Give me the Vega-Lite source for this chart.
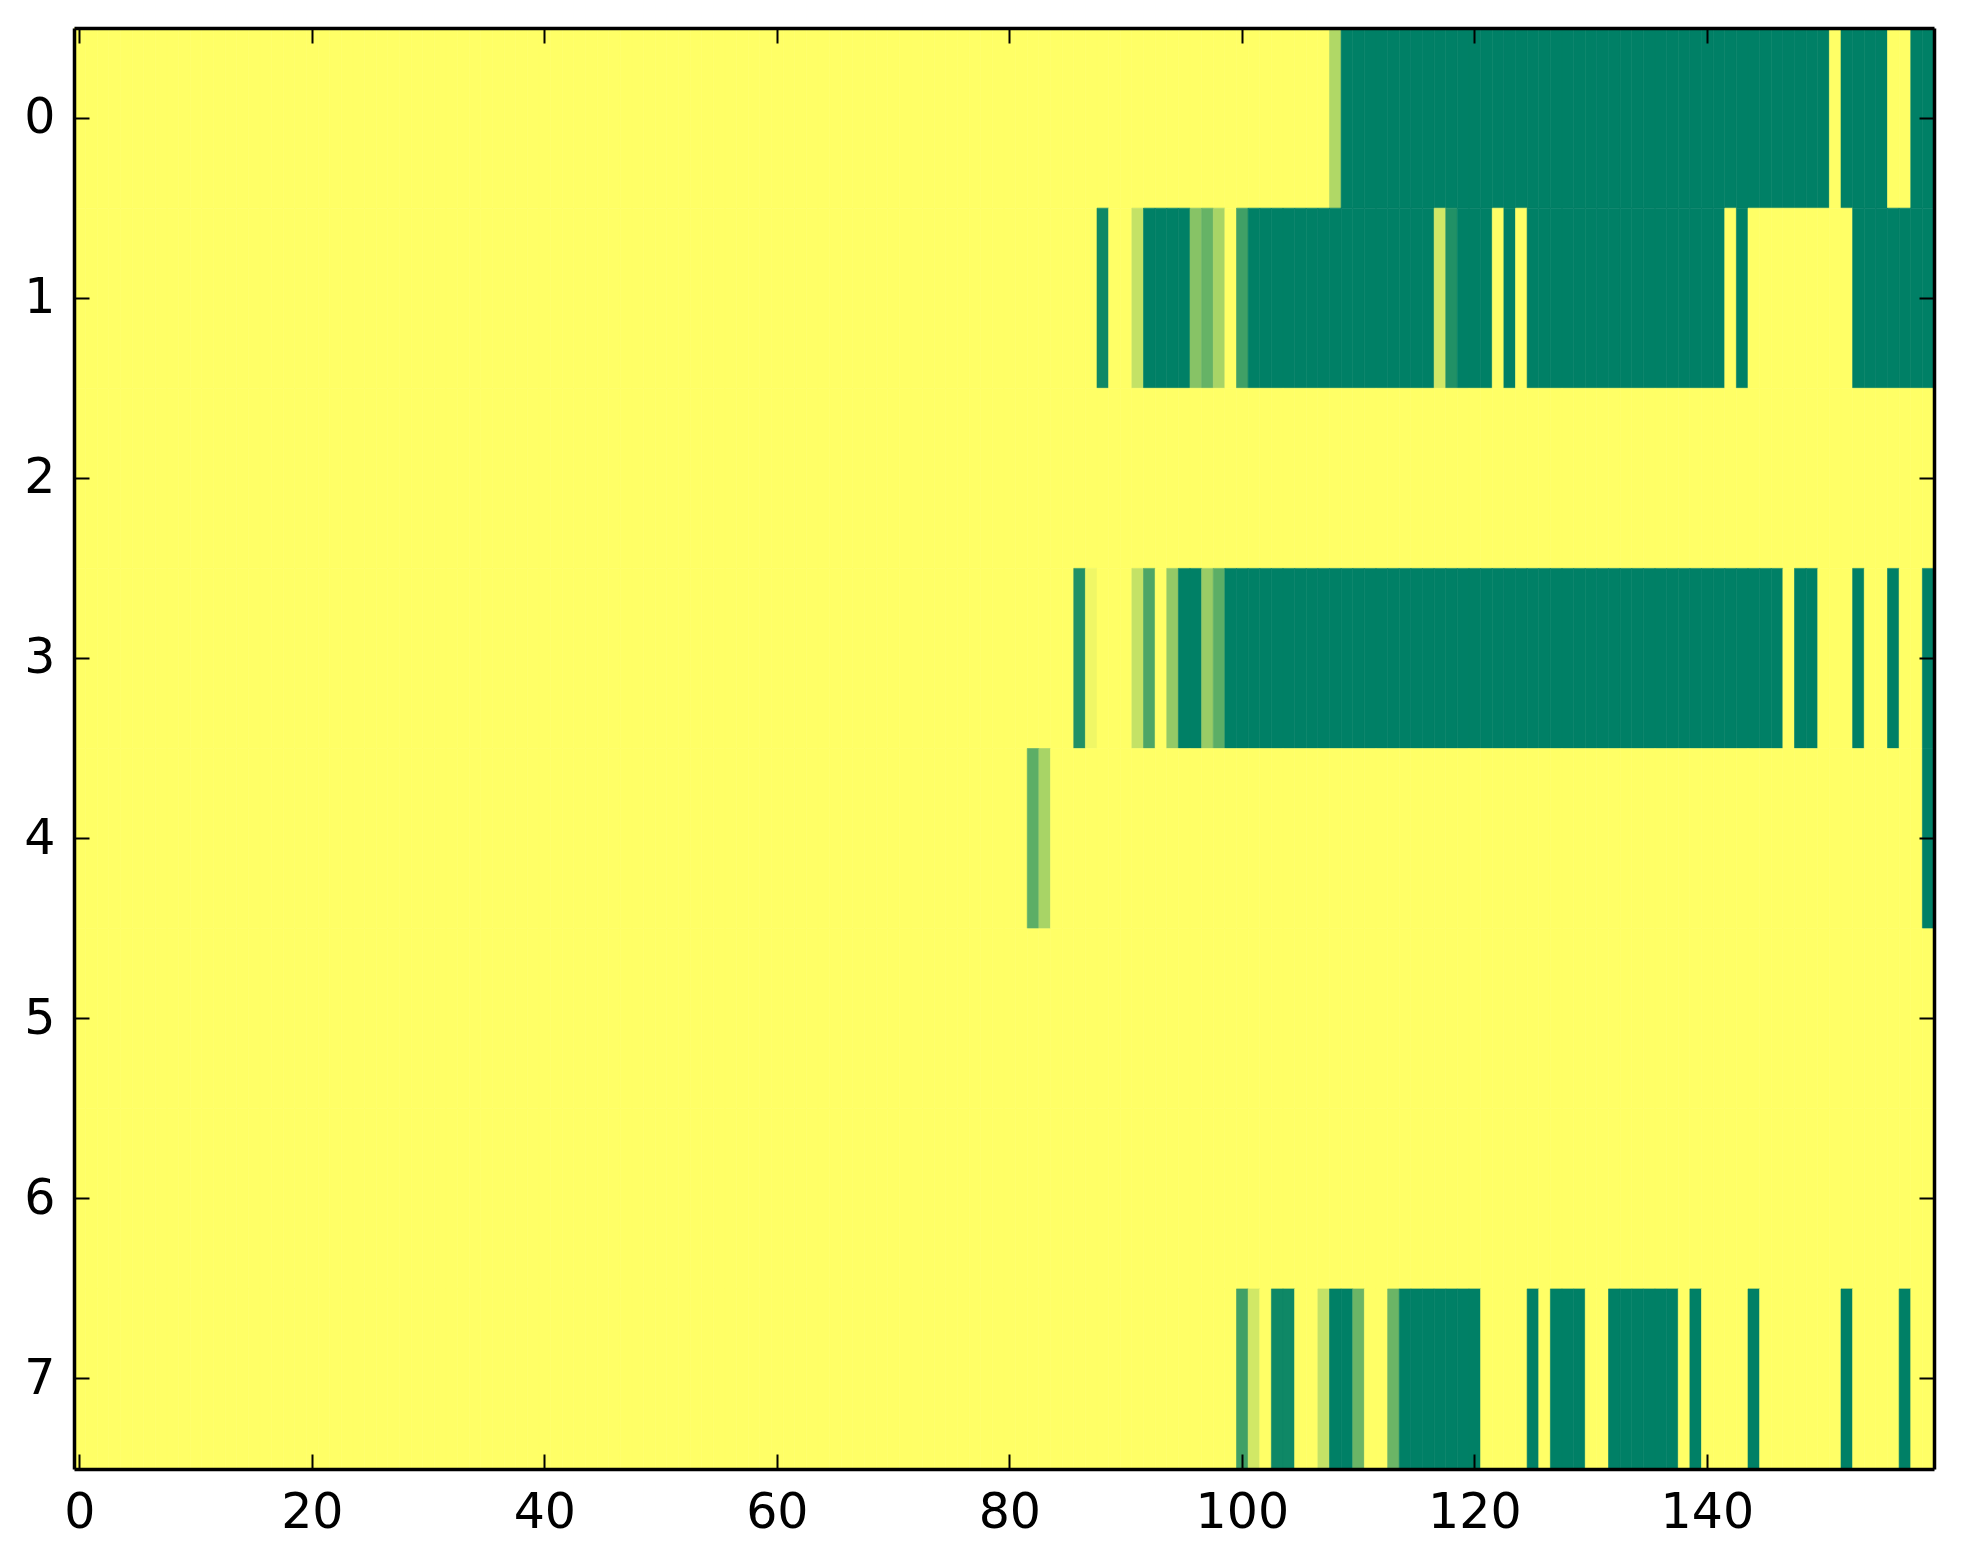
{
  "$schema": "https://vega.github.io/schema/vega-lite/v6.json",
  "width": 1860,
  "height": 1441,
  "autosize": {"type": "pad"},
  "padding": {"left": 23, "top": 27, "right": 30, "bottom": 5},
  "background": "white",
  "config": {
    "view": {"stroke": null},
    "axis": {
      "domain": true,
      "domainColor": "black",
      "domainWidth": 3.5,
      "grid": false,
      "title": null,
      "tickColor": "black",
      "tickWidth": 2,
      "tickSize": -15,
      "labelFont": "DejaVu Sans",
      "labelFontSize": 49,
      "labelColor": "black",
      "labelPadding": 34
    }
  },
  "data": {
    "values": [
      {"c":0,"r":0,"v":0},{"c":1,"r":0,"v":0},{"c":2,"r":0,"v":0},{"c":3,"r":0,"v":0},{"c":4,"r":0,"v":0},{"c":5,"r":0,"v":0},{"c":6,"r":0,"v":0},{"c":7,"r":0,"v":0},{"c":8,"r":0,"v":0},{"c":9,"r":0,"v":0},
      {"c":10,"r":0,"v":0},{"c":11,"r":0,"v":0},{"c":12,"r":0,"v":0},{"c":13,"r":0,"v":0},{"c":14,"r":0,"v":0},{"c":15,"r":0,"v":0},{"c":16,"r":0,"v":0},{"c":17,"r":0,"v":0},{"c":18,"r":0,"v":0},{"c":19,"r":0,"v":0},
      {"c":20,"r":0,"v":0},{"c":21,"r":0,"v":0},{"c":22,"r":0,"v":0},{"c":23,"r":0,"v":0},{"c":24,"r":0,"v":0},{"c":25,"r":0,"v":0},{"c":26,"r":0,"v":0},{"c":27,"r":0,"v":0},{"c":28,"r":0,"v":0},{"c":29,"r":0,"v":0},
      {"c":30,"r":0,"v":0},{"c":31,"r":0,"v":0},{"c":32,"r":0,"v":0},{"c":33,"r":0,"v":0},{"c":34,"r":0,"v":0},{"c":35,"r":0,"v":0},{"c":36,"r":0,"v":0},{"c":37,"r":0,"v":0},{"c":38,"r":0,"v":0},{"c":39,"r":0,"v":0},
      {"c":40,"r":0,"v":0},{"c":41,"r":0,"v":0},{"c":42,"r":0,"v":0},{"c":43,"r":0,"v":0},{"c":44,"r":0,"v":0},{"c":45,"r":0,"v":0},{"c":46,"r":0,"v":0},{"c":47,"r":0,"v":0},{"c":48,"r":0,"v":0},{"c":49,"r":0,"v":0},
      {"c":50,"r":0,"v":0},{"c":51,"r":0,"v":0},{"c":52,"r":0,"v":0},{"c":53,"r":0,"v":0},{"c":54,"r":0,"v":0},{"c":55,"r":0,"v":0},{"c":56,"r":0,"v":0},{"c":57,"r":0,"v":0},{"c":58,"r":0,"v":0},{"c":59,"r":0,"v":0},
      {"c":60,"r":0,"v":0},{"c":61,"r":0,"v":0},{"c":62,"r":0,"v":0},{"c":63,"r":0,"v":0},{"c":64,"r":0,"v":0},{"c":65,"r":0,"v":0},{"c":66,"r":0,"v":0},{"c":67,"r":0,"v":0},{"c":68,"r":0,"v":0},{"c":69,"r":0,"v":0},
      {"c":70,"r":0,"v":0},{"c":71,"r":0,"v":0},{"c":72,"r":0,"v":0},{"c":73,"r":0,"v":0},{"c":74,"r":0,"v":0},{"c":75,"r":0,"v":0},{"c":76,"r":0,"v":0},{"c":77,"r":0,"v":0},{"c":78,"r":0,"v":0},{"c":79,"r":0,"v":0},
      {"c":80,"r":0,"v":0},{"c":81,"r":0,"v":0},{"c":82,"r":0,"v":0},{"c":83,"r":0,"v":0},{"c":84,"r":0,"v":0},{"c":85,"r":0,"v":0},{"c":86,"r":0,"v":0},{"c":87,"r":0,"v":0},{"c":88,"r":0,"v":0},{"c":89,"r":0,"v":0},
      {"c":90,"r":0,"v":0},{"c":91,"r":0,"v":0},{"c":92,"r":0,"v":0},{"c":93,"r":0,"v":0},{"c":94,"r":0,"v":0},{"c":95,"r":0,"v":0},{"c":96,"r":0,"v":0},{"c":97,"r":0,"v":0},{"c":98,"r":0,"v":0},{"c":99,"r":0,"v":0},
      {"c":100,"r":0,"v":0},{"c":101,"r":0,"v":0},{"c":102,"r":0,"v":0},{"c":103,"r":0,"v":0},{"c":104,"r":0,"v":0},{"c":105,"r":0,"v":0},{"c":106,"r":0,"v":0},{"c":107,"r":0,"v":0},{"c":108,"r":0,"v":0.31},{"c":109,"r":0,"v":1},
      {"c":110,"r":0,"v":1},{"c":111,"r":0,"v":1},{"c":112,"r":0,"v":1},{"c":113,"r":0,"v":1},{"c":114,"r":0,"v":1},{"c":115,"r":0,"v":1},{"c":116,"r":0,"v":1},{"c":117,"r":0,"v":1},{"c":118,"r":0,"v":1},{"c":119,"r":0,"v":1},
      {"c":120,"r":0,"v":1},{"c":121,"r":0,"v":1},{"c":122,"r":0,"v":1},{"c":123,"r":0,"v":1},{"c":124,"r":0,"v":1},{"c":125,"r":0,"v":1},{"c":126,"r":0,"v":1},{"c":127,"r":0,"v":1},{"c":128,"r":0,"v":1},{"c":129,"r":0,"v":1},
      {"c":130,"r":0,"v":1},{"c":131,"r":0,"v":1},{"c":132,"r":0,"v":1},{"c":133,"r":0,"v":1},{"c":134,"r":0,"v":1},{"c":135,"r":0,"v":1},{"c":136,"r":0,"v":1},{"c":137,"r":0,"v":1},{"c":138,"r":0,"v":1},{"c":139,"r":0,"v":1},
      {"c":140,"r":0,"v":1},{"c":141,"r":0,"v":1},{"c":142,"r":0,"v":1},{"c":143,"r":0,"v":1},{"c":144,"r":0,"v":1},{"c":145,"r":0,"v":1},{"c":146,"r":0,"v":1},{"c":147,"r":0,"v":1},{"c":148,"r":0,"v":1},{"c":149,"r":0,"v":1},
      {"c":150,"r":0,"v":1},{"c":151,"r":0,"v":0},{"c":152,"r":0,"v":1},{"c":153,"r":0,"v":1},{"c":154,"r":0,"v":1},{"c":155,"r":0,"v":1},{"c":156,"r":0,"v":0},{"c":157,"r":0,"v":0},{"c":158,"r":0,"v":1},{"c":159,"r":0,"v":1},

      {"c":0,"r":1,"v":0},{"c":1,"r":1,"v":0},{"c":2,"r":1,"v":0},{"c":3,"r":1,"v":0},{"c":4,"r":1,"v":0},{"c":5,"r":1,"v":0},{"c":6,"r":1,"v":0},{"c":7,"r":1,"v":0},{"c":8,"r":1,"v":0},{"c":9,"r":1,"v":0},
      {"c":10,"r":1,"v":0},{"c":11,"r":1,"v":0},{"c":12,"r":1,"v":0},{"c":13,"r":1,"v":0},{"c":14,"r":1,"v":0},{"c":15,"r":1,"v":0},{"c":16,"r":1,"v":0},{"c":17,"r":1,"v":0},{"c":18,"r":1,"v":0},{"c":19,"r":1,"v":0},
      {"c":20,"r":1,"v":0},{"c":21,"r":1,"v":0},{"c":22,"r":1,"v":0},{"c":23,"r":1,"v":0},{"c":24,"r":1,"v":0},{"c":25,"r":1,"v":0},{"c":26,"r":1,"v":0},{"c":27,"r":1,"v":0},{"c":28,"r":1,"v":0},{"c":29,"r":1,"v":0},
      {"c":30,"r":1,"v":0},{"c":31,"r":1,"v":0},{"c":32,"r":1,"v":0},{"c":33,"r":1,"v":0},{"c":34,"r":1,"v":0},{"c":35,"r":1,"v":0},{"c":36,"r":1,"v":0},{"c":37,"r":1,"v":0},{"c":38,"r":1,"v":0},{"c":39,"r":1,"v":0},
      {"c":40,"r":1,"v":0},{"c":41,"r":1,"v":0},{"c":42,"r":1,"v":0},{"c":43,"r":1,"v":0},{"c":44,"r":1,"v":0},{"c":45,"r":1,"v":0},{"c":46,"r":1,"v":0},{"c":47,"r":1,"v":0},{"c":48,"r":1,"v":0},{"c":49,"r":1,"v":0},
      {"c":50,"r":1,"v":0},{"c":51,"r":1,"v":0},{"c":52,"r":1,"v":0},{"c":53,"r":1,"v":0},{"c":54,"r":1,"v":0},{"c":55,"r":1,"v":0},{"c":56,"r":1,"v":0},{"c":57,"r":1,"v":0},{"c":58,"r":1,"v":0},{"c":59,"r":1,"v":0},
      {"c":60,"r":1,"v":0},{"c":61,"r":1,"v":0},{"c":62,"r":1,"v":0},{"c":63,"r":1,"v":0},{"c":64,"r":1,"v":0},{"c":65,"r":1,"v":0},{"c":66,"r":1,"v":0},{"c":67,"r":1,"v":0},{"c":68,"r":1,"v":0},{"c":69,"r":1,"v":0},
      {"c":70,"r":1,"v":0},{"c":71,"r":1,"v":0},{"c":72,"r":1,"v":0},{"c":73,"r":1,"v":0},{"c":74,"r":1,"v":0},{"c":75,"r":1,"v":0},{"c":76,"r":1,"v":0},{"c":77,"r":1,"v":0},{"c":78,"r":1,"v":0},{"c":79,"r":1,"v":0},
      {"c":80,"r":1,"v":0},{"c":81,"r":1,"v":0},{"c":82,"r":1,"v":0},{"c":83,"r":1,"v":0},{"c":84,"r":1,"v":0},{"c":85,"r":1,"v":0},{"c":86,"r":1,"v":0},{"c":87,"r":1,"v":0},{"c":88,"r":1,"v":0.94},{"c":89,"r":1,"v":0},
      {"c":90,"r":1,"v":0},{"c":91,"r":1,"v":0.23},{"c":92,"r":1,"v":1},{"c":93,"r":1,"v":1},{"c":94,"r":1,"v":1},{"c":95,"r":1,"v":1},{"c":96,"r":1,"v":0.47},{"c":97,"r":1,"v":0.6},{"c":98,"r":1,"v":0.34},{"c":99,"r":1,"v":0},
      {"c":100,"r":1,"v":0.75},{"c":101,"r":1,"v":1},{"c":102,"r":1,"v":1},{"c":103,"r":1,"v":1},{"c":104,"r":1,"v":1},{"c":105,"r":1,"v":1},{"c":106,"r":1,"v":1},{"c":107,"r":1,"v":1},{"c":108,"r":1,"v":1},{"c":109,"r":1,"v":1},
      {"c":110,"r":1,"v":1},{"c":111,"r":1,"v":1},{"c":112,"r":1,"v":1},{"c":113,"r":1,"v":1},{"c":114,"r":1,"v":1},{"c":115,"r":1,"v":1},{"c":116,"r":1,"v":1},{"c":117,"r":1,"v":0.18},{"c":118,"r":1,"v":0.87},{"c":119,"r":1,"v":1},
      {"c":120,"r":1,"v":1},{"c":121,"r":1,"v":1},{"c":122,"r":1,"v":0},{"c":123,"r":1,"v":1},{"c":124,"r":1,"v":0},{"c":125,"r":1,"v":1},{"c":126,"r":1,"v":1},{"c":127,"r":1,"v":1},{"c":128,"r":1,"v":1},{"c":129,"r":1,"v":1},
      {"c":130,"r":1,"v":1},{"c":131,"r":1,"v":1},{"c":132,"r":1,"v":1},{"c":133,"r":1,"v":1},{"c":134,"r":1,"v":1},{"c":135,"r":1,"v":1},{"c":136,"r":1,"v":1},{"c":137,"r":1,"v":1},{"c":138,"r":1,"v":1},{"c":139,"r":1,"v":1},
      {"c":140,"r":1,"v":1},{"c":141,"r":1,"v":1},{"c":142,"r":1,"v":0},{"c":143,"r":1,"v":1},{"c":144,"r":1,"v":0},{"c":145,"r":1,"v":0},{"c":146,"r":1,"v":0},{"c":147,"r":1,"v":0},{"c":148,"r":1,"v":0},{"c":149,"r":1,"v":0},
      {"c":150,"r":1,"v":0},{"c":151,"r":1,"v":0},{"c":152,"r":1,"v":0},{"c":153,"r":1,"v":1},{"c":154,"r":1,"v":1},{"c":155,"r":1,"v":1},{"c":156,"r":1,"v":1},{"c":157,"r":1,"v":1},{"c":158,"r":1,"v":1},{"c":159,"r":1,"v":1},

      {"c":0,"r":2,"v":0},{"c":1,"r":2,"v":0},{"c":2,"r":2,"v":0},{"c":3,"r":2,"v":0},{"c":4,"r":2,"v":0},{"c":5,"r":2,"v":0},{"c":6,"r":2,"v":0},{"c":7,"r":2,"v":0},{"c":8,"r":2,"v":0},{"c":9,"r":2,"v":0},
      {"c":10,"r":2,"v":0},{"c":11,"r":2,"v":0},{"c":12,"r":2,"v":0},{"c":13,"r":2,"v":0},{"c":14,"r":2,"v":0},{"c":15,"r":2,"v":0},{"c":16,"r":2,"v":0},{"c":17,"r":2,"v":0},{"c":18,"r":2,"v":0},{"c":19,"r":2,"v":0},
      {"c":20,"r":2,"v":0},{"c":21,"r":2,"v":0},{"c":22,"r":2,"v":0},{"c":23,"r":2,"v":0},{"c":24,"r":2,"v":0},{"c":25,"r":2,"v":0},{"c":26,"r":2,"v":0},{"c":27,"r":2,"v":0},{"c":28,"r":2,"v":0},{"c":29,"r":2,"v":0},
      {"c":30,"r":2,"v":0},{"c":31,"r":2,"v":0},{"c":32,"r":2,"v":0},{"c":33,"r":2,"v":0},{"c":34,"r":2,"v":0},{"c":35,"r":2,"v":0},{"c":36,"r":2,"v":0},{"c":37,"r":2,"v":0},{"c":38,"r":2,"v":0},{"c":39,"r":2,"v":0},
      {"c":40,"r":2,"v":0},{"c":41,"r":2,"v":0},{"c":42,"r":2,"v":0},{"c":43,"r":2,"v":0},{"c":44,"r":2,"v":0},{"c":45,"r":2,"v":0},{"c":46,"r":2,"v":0},{"c":47,"r":2,"v":0},{"c":48,"r":2,"v":0},{"c":49,"r":2,"v":0},
      {"c":50,"r":2,"v":0},{"c":51,"r":2,"v":0},{"c":52,"r":2,"v":0},{"c":53,"r":2,"v":0},{"c":54,"r":2,"v":0},{"c":55,"r":2,"v":0},{"c":56,"r":2,"v":0},{"c":57,"r":2,"v":0},{"c":58,"r":2,"v":0},{"c":59,"r":2,"v":0},
      {"c":60,"r":2,"v":0},{"c":61,"r":2,"v":0},{"c":62,"r":2,"v":0},{"c":63,"r":2,"v":0},{"c":64,"r":2,"v":0},{"c":65,"r":2,"v":0},{"c":66,"r":2,"v":0},{"c":67,"r":2,"v":0},{"c":68,"r":2,"v":0},{"c":69,"r":2,"v":0},
      {"c":70,"r":2,"v":0},{"c":71,"r":2,"v":0},{"c":72,"r":2,"v":0},{"c":73,"r":2,"v":0},{"c":74,"r":2,"v":0},{"c":75,"r":2,"v":0},{"c":76,"r":2,"v":0},{"c":77,"r":2,"v":0},{"c":78,"r":2,"v":0},{"c":79,"r":2,"v":0},
      {"c":80,"r":2,"v":0},{"c":81,"r":2,"v":0},{"c":82,"r":2,"v":0},{"c":83,"r":2,"v":0},{"c":84,"r":2,"v":0},{"c":85,"r":2,"v":0},{"c":86,"r":2,"v":0},{"c":87,"r":2,"v":0},{"c":88,"r":2,"v":0},{"c":89,"r":2,"v":0},
      {"c":90,"r":2,"v":0},{"c":91,"r":2,"v":0},{"c":92,"r":2,"v":0},{"c":93,"r":2,"v":0},{"c":94,"r":2,"v":0},{"c":95,"r":2,"v":0},{"c":96,"r":2,"v":0},{"c":97,"r":2,"v":0},{"c":98,"r":2,"v":0},{"c":99,"r":2,"v":0},
      {"c":100,"r":2,"v":0},{"c":101,"r":2,"v":0},{"c":102,"r":2,"v":0},{"c":103,"r":2,"v":0},{"c":104,"r":2,"v":0},{"c":105,"r":2,"v":0},{"c":106,"r":2,"v":0},{"c":107,"r":2,"v":0},{"c":108,"r":2,"v":0},{"c":109,"r":2,"v":0},
      {"c":110,"r":2,"v":0},{"c":111,"r":2,"v":0},{"c":112,"r":2,"v":0},{"c":113,"r":2,"v":0},{"c":114,"r":2,"v":0},{"c":115,"r":2,"v":0},{"c":116,"r":2,"v":0},{"c":117,"r":2,"v":0},{"c":118,"r":2,"v":0},{"c":119,"r":2,"v":0},
      {"c":120,"r":2,"v":0},{"c":121,"r":2,"v":0},{"c":122,"r":2,"v":0},{"c":123,"r":2,"v":0},{"c":124,"r":2,"v":0},{"c":125,"r":2,"v":0},{"c":126,"r":2,"v":0},{"c":127,"r":2,"v":0},{"c":128,"r":2,"v":0},{"c":129,"r":2,"v":0},
      {"c":130,"r":2,"v":0},{"c":131,"r":2,"v":0},{"c":132,"r":2,"v":0},{"c":133,"r":2,"v":0},{"c":134,"r":2,"v":0},{"c":135,"r":2,"v":0},{"c":136,"r":2,"v":0},{"c":137,"r":2,"v":0},{"c":138,"r":2,"v":0},{"c":139,"r":2,"v":0},
      {"c":140,"r":2,"v":0},{"c":141,"r":2,"v":0},{"c":142,"r":2,"v":0},{"c":143,"r":2,"v":0},{"c":144,"r":2,"v":0},{"c":145,"r":2,"v":0},{"c":146,"r":2,"v":0},{"c":147,"r":2,"v":0},{"c":148,"r":2,"v":0},{"c":149,"r":2,"v":0},
      {"c":150,"r":2,"v":0},{"c":151,"r":2,"v":0},{"c":152,"r":2,"v":0},{"c":153,"r":2,"v":0},{"c":154,"r":2,"v":0},{"c":155,"r":2,"v":0},{"c":156,"r":2,"v":0},{"c":157,"r":2,"v":0},{"c":158,"r":2,"v":0},{"c":159,"r":2,"v":0},

      {"c":0,"r":3,"v":0},{"c":1,"r":3,"v":0},{"c":2,"r":3,"v":0},{"c":3,"r":3,"v":0},{"c":4,"r":3,"v":0},{"c":5,"r":3,"v":0},{"c":6,"r":3,"v":0},{"c":7,"r":3,"v":0},{"c":8,"r":3,"v":0},{"c":9,"r":3,"v":0},
      {"c":10,"r":3,"v":0},{"c":11,"r":3,"v":0},{"c":12,"r":3,"v":0},{"c":13,"r":3,"v":0},{"c":14,"r":3,"v":0},{"c":15,"r":3,"v":0},{"c":16,"r":3,"v":0},{"c":17,"r":3,"v":0},{"c":18,"r":3,"v":0},{"c":19,"r":3,"v":0},
      {"c":20,"r":3,"v":0},{"c":21,"r":3,"v":0},{"c":22,"r":3,"v":0},{"c":23,"r":3,"v":0},{"c":24,"r":3,"v":0},{"c":25,"r":3,"v":0},{"c":26,"r":3,"v":0},{"c":27,"r":3,"v":0},{"c":28,"r":3,"v":0},{"c":29,"r":3,"v":0},
      {"c":30,"r":3,"v":0},{"c":31,"r":3,"v":0},{"c":32,"r":3,"v":0},{"c":33,"r":3,"v":0},{"c":34,"r":3,"v":0},{"c":35,"r":3,"v":0},{"c":36,"r":3,"v":0},{"c":37,"r":3,"v":0},{"c":38,"r":3,"v":0},{"c":39,"r":3,"v":0},
      {"c":40,"r":3,"v":0},{"c":41,"r":3,"v":0},{"c":42,"r":3,"v":0},{"c":43,"r":3,"v":0},{"c":44,"r":3,"v":0},{"c":45,"r":3,"v":0},{"c":46,"r":3,"v":0},{"c":47,"r":3,"v":0},{"c":48,"r":3,"v":0},{"c":49,"r":3,"v":0},
      {"c":50,"r":3,"v":0},{"c":51,"r":3,"v":0},{"c":52,"r":3,"v":0},{"c":53,"r":3,"v":0},{"c":54,"r":3,"v":0},{"c":55,"r":3,"v":0},{"c":56,"r":3,"v":0},{"c":57,"r":3,"v":0},{"c":58,"r":3,"v":0},{"c":59,"r":3,"v":0},
      {"c":60,"r":3,"v":0},{"c":61,"r":3,"v":0},{"c":62,"r":3,"v":0},{"c":63,"r":3,"v":0},{"c":64,"r":3,"v":0},{"c":65,"r":3,"v":0},{"c":66,"r":3,"v":0},{"c":67,"r":3,"v":0},{"c":68,"r":3,"v":0},{"c":69,"r":3,"v":0},
      {"c":70,"r":3,"v":0},{"c":71,"r":3,"v":0},{"c":72,"r":3,"v":0},{"c":73,"r":3,"v":0},{"c":74,"r":3,"v":0},{"c":75,"r":3,"v":0},{"c":76,"r":3,"v":0},{"c":77,"r":3,"v":0},{"c":78,"r":3,"v":0},{"c":79,"r":3,"v":0},
      {"c":80,"r":3,"v":0},{"c":81,"r":3,"v":0},{"c":82,"r":3,"v":0},{"c":83,"r":3,"v":0},{"c":84,"r":3,"v":0},{"c":85,"r":3,"v":0},{"c":86,"r":3,"v":0.87},{"c":87,"r":3,"v":0.06},{"c":88,"r":3,"v":0},{"c":89,"r":3,"v":0},
      {"c":90,"r":3,"v":0},{"c":91,"r":3,"v":0.23},{"c":92,"r":3,"v":0.7},{"c":93,"r":3,"v":0},{"c":94,"r":3,"v":0.42},{"c":95,"r":3,"v":1},{"c":96,"r":3,"v":1},{"c":97,"r":3,"v":0.4},{"c":98,"r":3,"v":0.64},{"c":99,"r":3,"v":1},
      {"c":100,"r":3,"v":1},{"c":101,"r":3,"v":1},{"c":102,"r":3,"v":1},{"c":103,"r":3,"v":1},{"c":104,"r":3,"v":1},{"c":105,"r":3,"v":1},{"c":106,"r":3,"v":1},{"c":107,"r":3,"v":1},{"c":108,"r":3,"v":1},{"c":109,"r":3,"v":1},
      {"c":110,"r":3,"v":1},{"c":111,"r":3,"v":1},{"c":112,"r":3,"v":1},{"c":113,"r":3,"v":1},{"c":114,"r":3,"v":1},{"c":115,"r":3,"v":1},{"c":116,"r":3,"v":1},{"c":117,"r":3,"v":1},{"c":118,"r":3,"v":1},{"c":119,"r":3,"v":1},
      {"c":120,"r":3,"v":1},{"c":121,"r":3,"v":1},{"c":122,"r":3,"v":1},{"c":123,"r":3,"v":1},{"c":124,"r":3,"v":1},{"c":125,"r":3,"v":1},{"c":126,"r":3,"v":1},{"c":127,"r":3,"v":1},{"c":128,"r":3,"v":1},{"c":129,"r":3,"v":1},
      {"c":130,"r":3,"v":1},{"c":131,"r":3,"v":1},{"c":132,"r":3,"v":1},{"c":133,"r":3,"v":1},{"c":134,"r":3,"v":1},{"c":135,"r":3,"v":1},{"c":136,"r":3,"v":1},{"c":137,"r":3,"v":1},{"c":138,"r":3,"v":1},{"c":139,"r":3,"v":1},
      {"c":140,"r":3,"v":1},{"c":141,"r":3,"v":1},{"c":142,"r":3,"v":1},{"c":143,"r":3,"v":1},{"c":144,"r":3,"v":1},{"c":145,"r":3,"v":1},{"c":146,"r":3,"v":1},{"c":147,"r":3,"v":0},{"c":148,"r":3,"v":1},{"c":149,"r":3,"v":1},
      {"c":150,"r":3,"v":0},{"c":151,"r":3,"v":0},{"c":152,"r":3,"v":0},{"c":153,"r":3,"v":1},{"c":154,"r":3,"v":0},{"c":155,"r":3,"v":0},{"c":156,"r":3,"v":1},{"c":157,"r":3,"v":0},{"c":158,"r":3,"v":0},{"c":159,"r":3,"v":1},

      {"c":0,"r":4,"v":0},{"c":1,"r":4,"v":0},{"c":2,"r":4,"v":0},{"c":3,"r":4,"v":0},{"c":4,"r":4,"v":0},{"c":5,"r":4,"v":0},{"c":6,"r":4,"v":0},{"c":7,"r":4,"v":0},{"c":8,"r":4,"v":0},{"c":9,"r":4,"v":0},
      {"c":10,"r":4,"v":0},{"c":11,"r":4,"v":0},{"c":12,"r":4,"v":0},{"c":13,"r":4,"v":0},{"c":14,"r":4,"v":0},{"c":15,"r":4,"v":0},{"c":16,"r":4,"v":0},{"c":17,"r":4,"v":0},{"c":18,"r":4,"v":0},{"c":19,"r":4,"v":0},
      {"c":20,"r":4,"v":0},{"c":21,"r":4,"v":0},{"c":22,"r":4,"v":0},{"c":23,"r":4,"v":0},{"c":24,"r":4,"v":0},{"c":25,"r":4,"v":0},{"c":26,"r":4,"v":0},{"c":27,"r":4,"v":0},{"c":28,"r":4,"v":0},{"c":29,"r":4,"v":0},
      {"c":30,"r":4,"v":0},{"c":31,"r":4,"v":0},{"c":32,"r":4,"v":0},{"c":33,"r":4,"v":0},{"c":34,"r":4,"v":0},{"c":35,"r":4,"v":0},{"c":36,"r":4,"v":0},{"c":37,"r":4,"v":0},{"c":38,"r":4,"v":0},{"c":39,"r":4,"v":0},
      {"c":40,"r":4,"v":0},{"c":41,"r":4,"v":0},{"c":42,"r":4,"v":0},{"c":43,"r":4,"v":0},{"c":44,"r":4,"v":0},{"c":45,"r":4,"v":0},{"c":46,"r":4,"v":0},{"c":47,"r":4,"v":0},{"c":48,"r":4,"v":0},{"c":49,"r":4,"v":0},
      {"c":50,"r":4,"v":0},{"c":51,"r":4,"v":0},{"c":52,"r":4,"v":0},{"c":53,"r":4,"v":0},{"c":54,"r":4,"v":0},{"c":55,"r":4,"v":0},{"c":56,"r":4,"v":0},{"c":57,"r":4,"v":0},{"c":58,"r":4,"v":0},{"c":59,"r":4,"v":0},
      {"c":60,"r":4,"v":0},{"c":61,"r":4,"v":0},{"c":62,"r":4,"v":0},{"c":63,"r":4,"v":0},{"c":64,"r":4,"v":0},{"c":65,"r":4,"v":0},{"c":66,"r":4,"v":0},{"c":67,"r":4,"v":0},{"c":68,"r":4,"v":0},{"c":69,"r":4,"v":0},
      {"c":70,"r":4,"v":0},{"c":71,"r":4,"v":0},{"c":72,"r":4,"v":0},{"c":73,"r":4,"v":0},{"c":74,"r":4,"v":0},{"c":75,"r":4,"v":0},{"c":76,"r":4,"v":0},{"c":77,"r":4,"v":0},{"c":78,"r":4,"v":0},{"c":79,"r":4,"v":0},
      {"c":80,"r":4,"v":0},{"c":81,"r":4,"v":0},{"c":82,"r":4,"v":0.64},{"c":83,"r":4,"v":0.34},{"c":84,"r":4,"v":0},{"c":85,"r":4,"v":0},{"c":86,"r":4,"v":0},{"c":87,"r":4,"v":0},{"c":88,"r":4,"v":0},{"c":89,"r":4,"v":0},
      {"c":90,"r":4,"v":0},{"c":91,"r":4,"v":0},{"c":92,"r":4,"v":0},{"c":93,"r":4,"v":0},{"c":94,"r":4,"v":0},{"c":95,"r":4,"v":0},{"c":96,"r":4,"v":0},{"c":97,"r":4,"v":0},{"c":98,"r":4,"v":0},{"c":99,"r":4,"v":0},
      {"c":100,"r":4,"v":0},{"c":101,"r":4,"v":0},{"c":102,"r":4,"v":0},{"c":103,"r":4,"v":0},{"c":104,"r":4,"v":0},{"c":105,"r":4,"v":0},{"c":106,"r":4,"v":0},{"c":107,"r":4,"v":0},{"c":108,"r":4,"v":0},{"c":109,"r":4,"v":0},
      {"c":110,"r":4,"v":0},{"c":111,"r":4,"v":0},{"c":112,"r":4,"v":0},{"c":113,"r":4,"v":0},{"c":114,"r":4,"v":0},{"c":115,"r":4,"v":0},{"c":116,"r":4,"v":0},{"c":117,"r":4,"v":0},{"c":118,"r":4,"v":0},{"c":119,"r":4,"v":0},
      {"c":120,"r":4,"v":0},{"c":121,"r":4,"v":0},{"c":122,"r":4,"v":0},{"c":123,"r":4,"v":0},{"c":124,"r":4,"v":0},{"c":125,"r":4,"v":0},{"c":126,"r":4,"v":0},{"c":127,"r":4,"v":0},{"c":128,"r":4,"v":0},{"c":129,"r":4,"v":0},
      {"c":130,"r":4,"v":0},{"c":131,"r":4,"v":0},{"c":132,"r":4,"v":0},{"c":133,"r":4,"v":0},{"c":134,"r":4,"v":0},{"c":135,"r":4,"v":0},{"c":136,"r":4,"v":0},{"c":137,"r":4,"v":0},{"c":138,"r":4,"v":0},{"c":139,"r":4,"v":0},
      {"c":140,"r":4,"v":0},{"c":141,"r":4,"v":0},{"c":142,"r":4,"v":0},{"c":143,"r":4,"v":0},{"c":144,"r":4,"v":0},{"c":145,"r":4,"v":0},{"c":146,"r":4,"v":0},{"c":147,"r":4,"v":0},{"c":148,"r":4,"v":0},{"c":149,"r":4,"v":0},
      {"c":150,"r":4,"v":0},{"c":151,"r":4,"v":0},{"c":152,"r":4,"v":0},{"c":153,"r":4,"v":0},{"c":154,"r":4,"v":0},{"c":155,"r":4,"v":0},{"c":156,"r":4,"v":0},{"c":157,"r":4,"v":0},{"c":158,"r":4,"v":0},{"c":159,"r":4,"v":1},

      {"c":0,"r":5,"v":0},{"c":1,"r":5,"v":0},{"c":2,"r":5,"v":0},{"c":3,"r":5,"v":0},{"c":4,"r":5,"v":0},{"c":5,"r":5,"v":0},{"c":6,"r":5,"v":0},{"c":7,"r":5,"v":0},{"c":8,"r":5,"v":0},{"c":9,"r":5,"v":0},
      {"c":10,"r":5,"v":0},{"c":11,"r":5,"v":0},{"c":12,"r":5,"v":0},{"c":13,"r":5,"v":0},{"c":14,"r":5,"v":0},{"c":15,"r":5,"v":0},{"c":16,"r":5,"v":0},{"c":17,"r":5,"v":0},{"c":18,"r":5,"v":0},{"c":19,"r":5,"v":0},
      {"c":20,"r":5,"v":0},{"c":21,"r":5,"v":0},{"c":22,"r":5,"v":0},{"c":23,"r":5,"v":0},{"c":24,"r":5,"v":0},{"c":25,"r":5,"v":0},{"c":26,"r":5,"v":0},{"c":27,"r":5,"v":0},{"c":28,"r":5,"v":0},{"c":29,"r":5,"v":0},
      {"c":30,"r":5,"v":0},{"c":31,"r":5,"v":0},{"c":32,"r":5,"v":0},{"c":33,"r":5,"v":0},{"c":34,"r":5,"v":0},{"c":35,"r":5,"v":0},{"c":36,"r":5,"v":0},{"c":37,"r":5,"v":0},{"c":38,"r":5,"v":0},{"c":39,"r":5,"v":0},
      {"c":40,"r":5,"v":0},{"c":41,"r":5,"v":0},{"c":42,"r":5,"v":0},{"c":43,"r":5,"v":0},{"c":44,"r":5,"v":0},{"c":45,"r":5,"v":0},{"c":46,"r":5,"v":0},{"c":47,"r":5,"v":0},{"c":48,"r":5,"v":0},{"c":49,"r":5,"v":0},
      {"c":50,"r":5,"v":0},{"c":51,"r":5,"v":0},{"c":52,"r":5,"v":0},{"c":53,"r":5,"v":0},{"c":54,"r":5,"v":0},{"c":55,"r":5,"v":0},{"c":56,"r":5,"v":0},{"c":57,"r":5,"v":0},{"c":58,"r":5,"v":0},{"c":59,"r":5,"v":0},
      {"c":60,"r":5,"v":0},{"c":61,"r":5,"v":0},{"c":62,"r":5,"v":0},{"c":63,"r":5,"v":0},{"c":64,"r":5,"v":0},{"c":65,"r":5,"v":0},{"c":66,"r":5,"v":0},{"c":67,"r":5,"v":0},{"c":68,"r":5,"v":0},{"c":69,"r":5,"v":0},
      {"c":70,"r":5,"v":0},{"c":71,"r":5,"v":0},{"c":72,"r":5,"v":0},{"c":73,"r":5,"v":0},{"c":74,"r":5,"v":0},{"c":75,"r":5,"v":0},{"c":76,"r":5,"v":0},{"c":77,"r":5,"v":0},{"c":78,"r":5,"v":0},{"c":79,"r":5,"v":0},
      {"c":80,"r":5,"v":0},{"c":81,"r":5,"v":0},{"c":82,"r":5,"v":0},{"c":83,"r":5,"v":0},{"c":84,"r":5,"v":0},{"c":85,"r":5,"v":0},{"c":86,"r":5,"v":0},{"c":87,"r":5,"v":0},{"c":88,"r":5,"v":0},{"c":89,"r":5,"v":0},
      {"c":90,"r":5,"v":0},{"c":91,"r":5,"v":0},{"c":92,"r":5,"v":0},{"c":93,"r":5,"v":0},{"c":94,"r":5,"v":0},{"c":95,"r":5,"v":0},{"c":96,"r":5,"v":0},{"c":97,"r":5,"v":0},{"c":98,"r":5,"v":0},{"c":99,"r":5,"v":0},
      {"c":100,"r":5,"v":0},{"c":101,"r":5,"v":0},{"c":102,"r":5,"v":0},{"c":103,"r":5,"v":0},{"c":104,"r":5,"v":0},{"c":105,"r":5,"v":0},{"c":106,"r":5,"v":0},{"c":107,"r":5,"v":0},{"c":108,"r":5,"v":0},{"c":109,"r":5,"v":0},
      {"c":110,"r":5,"v":0},{"c":111,"r":5,"v":0},{"c":112,"r":5,"v":0},{"c":113,"r":5,"v":0},{"c":114,"r":5,"v":0},{"c":115,"r":5,"v":0},{"c":116,"r":5,"v":0},{"c":117,"r":5,"v":0},{"c":118,"r":5,"v":0},{"c":119,"r":5,"v":0},
      {"c":120,"r":5,"v":0},{"c":121,"r":5,"v":0},{"c":122,"r":5,"v":0},{"c":123,"r":5,"v":0},{"c":124,"r":5,"v":0},{"c":125,"r":5,"v":0},{"c":126,"r":5,"v":0},{"c":127,"r":5,"v":0},{"c":128,"r":5,"v":0},{"c":129,"r":5,"v":0},
      {"c":130,"r":5,"v":0},{"c":131,"r":5,"v":0},{"c":132,"r":5,"v":0},{"c":133,"r":5,"v":0},{"c":134,"r":5,"v":0},{"c":135,"r":5,"v":0},{"c":136,"r":5,"v":0},{"c":137,"r":5,"v":0},{"c":138,"r":5,"v":0},{"c":139,"r":5,"v":0},
      {"c":140,"r":5,"v":0},{"c":141,"r":5,"v":0},{"c":142,"r":5,"v":0},{"c":143,"r":5,"v":0},{"c":144,"r":5,"v":0},{"c":145,"r":5,"v":0},{"c":146,"r":5,"v":0},{"c":147,"r":5,"v":0},{"c":148,"r":5,"v":0},{"c":149,"r":5,"v":0},
      {"c":150,"r":5,"v":0},{"c":151,"r":5,"v":0},{"c":152,"r":5,"v":0},{"c":153,"r":5,"v":0},{"c":154,"r":5,"v":0},{"c":155,"r":5,"v":0},{"c":156,"r":5,"v":0},{"c":157,"r":5,"v":0},{"c":158,"r":5,"v":0},{"c":159,"r":5,"v":0},

      {"c":0,"r":6,"v":0},{"c":1,"r":6,"v":0},{"c":2,"r":6,"v":0},{"c":3,"r":6,"v":0},{"c":4,"r":6,"v":0},{"c":5,"r":6,"v":0},{"c":6,"r":6,"v":0},{"c":7,"r":6,"v":0},{"c":8,"r":6,"v":0},{"c":9,"r":6,"v":0},
      {"c":10,"r":6,"v":0},{"c":11,"r":6,"v":0},{"c":12,"r":6,"v":0},{"c":13,"r":6,"v":0},{"c":14,"r":6,"v":0},{"c":15,"r":6,"v":0},{"c":16,"r":6,"v":0},{"c":17,"r":6,"v":0},{"c":18,"r":6,"v":0},{"c":19,"r":6,"v":0},
      {"c":20,"r":6,"v":0},{"c":21,"r":6,"v":0},{"c":22,"r":6,"v":0},{"c":23,"r":6,"v":0},{"c":24,"r":6,"v":0},{"c":25,"r":6,"v":0},{"c":26,"r":6,"v":0},{"c":27,"r":6,"v":0},{"c":28,"r":6,"v":0},{"c":29,"r":6,"v":0},
      {"c":30,"r":6,"v":0},{"c":31,"r":6,"v":0},{"c":32,"r":6,"v":0},{"c":33,"r":6,"v":0},{"c":34,"r":6,"v":0},{"c":35,"r":6,"v":0},{"c":36,"r":6,"v":0},{"c":37,"r":6,"v":0},{"c":38,"r":6,"v":0},{"c":39,"r":6,"v":0},
      {"c":40,"r":6,"v":0},{"c":41,"r":6,"v":0},{"c":42,"r":6,"v":0},{"c":43,"r":6,"v":0},{"c":44,"r":6,"v":0},{"c":45,"r":6,"v":0},{"c":46,"r":6,"v":0},{"c":47,"r":6,"v":0},{"c":48,"r":6,"v":0},{"c":49,"r":6,"v":0},
      {"c":50,"r":6,"v":0},{"c":51,"r":6,"v":0},{"c":52,"r":6,"v":0},{"c":53,"r":6,"v":0},{"c":54,"r":6,"v":0},{"c":55,"r":6,"v":0},{"c":56,"r":6,"v":0},{"c":57,"r":6,"v":0},{"c":58,"r":6,"v":0},{"c":59,"r":6,"v":0},
      {"c":60,"r":6,"v":0},{"c":61,"r":6,"v":0},{"c":62,"r":6,"v":0},{"c":63,"r":6,"v":0},{"c":64,"r":6,"v":0},{"c":65,"r":6,"v":0},{"c":66,"r":6,"v":0},{"c":67,"r":6,"v":0},{"c":68,"r":6,"v":0},{"c":69,"r":6,"v":0},
      {"c":70,"r":6,"v":0},{"c":71,"r":6,"v":0},{"c":72,"r":6,"v":0},{"c":73,"r":6,"v":0},{"c":74,"r":6,"v":0},{"c":75,"r":6,"v":0},{"c":76,"r":6,"v":0},{"c":77,"r":6,"v":0},{"c":78,"r":6,"v":0},{"c":79,"r":6,"v":0},
      {"c":80,"r":6,"v":0},{"c":81,"r":6,"v":0},{"c":82,"r":6,"v":0},{"c":83,"r":6,"v":0},{"c":84,"r":6,"v":0},{"c":85,"r":6,"v":0},{"c":86,"r":6,"v":0},{"c":87,"r":6,"v":0},{"c":88,"r":6,"v":0},{"c":89,"r":6,"v":0},
      {"c":90,"r":6,"v":0},{"c":91,"r":6,"v":0},{"c":92,"r":6,"v":0},{"c":93,"r":6,"v":0},{"c":94,"r":6,"v":0},{"c":95,"r":6,"v":0},{"c":96,"r":6,"v":0},{"c":97,"r":6,"v":0},{"c":98,"r":6,"v":0},{"c":99,"r":6,"v":0},
      {"c":100,"r":6,"v":0},{"c":101,"r":6,"v":0},{"c":102,"r":6,"v":0},{"c":103,"r":6,"v":0},{"c":104,"r":6,"v":0},{"c":105,"r":6,"v":0},{"c":106,"r":6,"v":0},{"c":107,"r":6,"v":0},{"c":108,"r":6,"v":0},{"c":109,"r":6,"v":0},
      {"c":110,"r":6,"v":0},{"c":111,"r":6,"v":0},{"c":112,"r":6,"v":0},{"c":113,"r":6,"v":0},{"c":114,"r":6,"v":0},{"c":115,"r":6,"v":0},{"c":116,"r":6,"v":0},{"c":117,"r":6,"v":0},{"c":118,"r":6,"v":0},{"c":119,"r":6,"v":0},
      {"c":120,"r":6,"v":0},{"c":121,"r":6,"v":0},{"c":122,"r":6,"v":0},{"c":123,"r":6,"v":0},{"c":124,"r":6,"v":0},{"c":125,"r":6,"v":0},{"c":126,"r":6,"v":0},{"c":127,"r":6,"v":0},{"c":128,"r":6,"v":0},{"c":129,"r":6,"v":0},
      {"c":130,"r":6,"v":0},{"c":131,"r":6,"v":0},{"c":132,"r":6,"v":0},{"c":133,"r":6,"v":0},{"c":134,"r":6,"v":0},{"c":135,"r":6,"v":0},{"c":136,"r":6,"v":0},{"c":137,"r":6,"v":0},{"c":138,"r":6,"v":0},{"c":139,"r":6,"v":0},
      {"c":140,"r":6,"v":0},{"c":141,"r":6,"v":0},{"c":142,"r":6,"v":0},{"c":143,"r":6,"v":0},{"c":144,"r":6,"v":0},{"c":145,"r":6,"v":0},{"c":146,"r":6,"v":0},{"c":147,"r":6,"v":0},{"c":148,"r":6,"v":0},{"c":149,"r":6,"v":0},
      {"c":150,"r":6,"v":0},{"c":151,"r":6,"v":0},{"c":152,"r":6,"v":0},{"c":153,"r":6,"v":0},{"c":154,"r":6,"v":0},{"c":155,"r":6,"v":0},{"c":156,"r":6,"v":0},{"c":157,"r":6,"v":0},{"c":158,"r":6,"v":0},{"c":159,"r":6,"v":0},

      {"c":0,"r":7,"v":0},{"c":1,"r":7,"v":0},{"c":2,"r":7,"v":0},{"c":3,"r":7,"v":0},{"c":4,"r":7,"v":0},{"c":5,"r":7,"v":0},{"c":6,"r":7,"v":0},{"c":7,"r":7,"v":0},{"c":8,"r":7,"v":0},{"c":9,"r":7,"v":0},
      {"c":10,"r":7,"v":0},{"c":11,"r":7,"v":0},{"c":12,"r":7,"v":0},{"c":13,"r":7,"v":0},{"c":14,"r":7,"v":0},{"c":15,"r":7,"v":0},{"c":16,"r":7,"v":0},{"c":17,"r":7,"v":0},{"c":18,"r":7,"v":0},{"c":19,"r":7,"v":0},
      {"c":20,"r":7,"v":0},{"c":21,"r":7,"v":0},{"c":22,"r":7,"v":0},{"c":23,"r":7,"v":0},{"c":24,"r":7,"v":0},{"c":25,"r":7,"v":0},{"c":26,"r":7,"v":0},{"c":27,"r":7,"v":0},{"c":28,"r":7,"v":0},{"c":29,"r":7,"v":0},
      {"c":30,"r":7,"v":0},{"c":31,"r":7,"v":0},{"c":32,"r":7,"v":0},{"c":33,"r":7,"v":0},{"c":34,"r":7,"v":0},{"c":35,"r":7,"v":0},{"c":36,"r":7,"v":0},{"c":37,"r":7,"v":0},{"c":38,"r":7,"v":0},{"c":39,"r":7,"v":0},
      {"c":40,"r":7,"v":0},{"c":41,"r":7,"v":0},{"c":42,"r":7,"v":0},{"c":43,"r":7,"v":0},{"c":44,"r":7,"v":0},{"c":45,"r":7,"v":0},{"c":46,"r":7,"v":0},{"c":47,"r":7,"v":0},{"c":48,"r":7,"v":0},{"c":49,"r":7,"v":0},
      {"c":50,"r":7,"v":0},{"c":51,"r":7,"v":0},{"c":52,"r":7,"v":0},{"c":53,"r":7,"v":0},{"c":54,"r":7,"v":0},{"c":55,"r":7,"v":0},{"c":56,"r":7,"v":0},{"c":57,"r":7,"v":0},{"c":58,"r":7,"v":0},{"c":59,"r":7,"v":0},
      {"c":60,"r":7,"v":0},{"c":61,"r":7,"v":0},{"c":62,"r":7,"v":0},{"c":63,"r":7,"v":0},{"c":64,"r":7,"v":0},{"c":65,"r":7,"v":0},{"c":66,"r":7,"v":0},{"c":67,"r":7,"v":0},{"c":68,"r":7,"v":0},{"c":69,"r":7,"v":0},
      {"c":70,"r":7,"v":0},{"c":71,"r":7,"v":0},{"c":72,"r":7,"v":0},{"c":73,"r":7,"v":0},{"c":74,"r":7,"v":0},{"c":75,"r":7,"v":0},{"c":76,"r":7,"v":0},{"c":77,"r":7,"v":0},{"c":78,"r":7,"v":0},{"c":79,"r":7,"v":0},
      {"c":80,"r":7,"v":0},{"c":81,"r":7,"v":0},{"c":82,"r":7,"v":0},{"c":83,"r":7,"v":0},{"c":84,"r":7,"v":0},{"c":85,"r":7,"v":0},{"c":86,"r":7,"v":0},{"c":87,"r":7,"v":0},{"c":88,"r":7,"v":0},{"c":89,"r":7,"v":0},
      {"c":90,"r":7,"v":0},{"c":91,"r":7,"v":0},{"c":92,"r":7,"v":0},{"c":93,"r":7,"v":0},{"c":94,"r":7,"v":0},{"c":95,"r":7,"v":0},{"c":96,"r":7,"v":0},{"c":97,"r":7,"v":0},{"c":98,"r":7,"v":0},{"c":99,"r":7,"v":0},
      {"c":100,"r":7,"v":0.75},{"c":101,"r":7,"v":0.18},{"c":102,"r":7,"v":0},{"c":103,"r":7,"v":0.94},{"c":104,"r":7,"v":0.94},{"c":105,"r":7,"v":0},{"c":106,"r":7,"v":0},{"c":107,"r":7,"v":0.23},{"c":108,"r":7,"v":1},{"c":109,"r":7,"v":1},
      {"c":110,"r":7,"v":0.58},{"c":111,"r":7,"v":0},{"c":112,"r":7,"v":0},{"c":113,"r":7,"v":0.58},{"c":114,"r":7,"v":1},{"c":115,"r":7,"v":1},{"c":116,"r":7,"v":1},{"c":117,"r":7,"v":1},{"c":118,"r":7,"v":1},{"c":119,"r":7,"v":1},
      {"c":120,"r":7,"v":1},{"c":121,"r":7,"v":0},{"c":122,"r":7,"v":0},{"c":123,"r":7,"v":0},{"c":124,"r":7,"v":0},{"c":125,"r":7,"v":1},{"c":126,"r":7,"v":0},{"c":127,"r":7,"v":1},{"c":128,"r":7,"v":1},{"c":129,"r":7,"v":1},
      {"c":130,"r":7,"v":0},{"c":131,"r":7,"v":0},{"c":132,"r":7,"v":1},{"c":133,"r":7,"v":1},{"c":134,"r":7,"v":1},{"c":135,"r":7,"v":1},{"c":136,"r":7,"v":1},{"c":137,"r":7,"v":1},{"c":138,"r":7,"v":0},{"c":139,"r":7,"v":1},
      {"c":140,"r":7,"v":0},{"c":141,"r":7,"v":0},{"c":142,"r":7,"v":0},{"c":143,"r":7,"v":0},{"c":144,"r":7,"v":1},{"c":145,"r":7,"v":0},{"c":146,"r":7,"v":0},{"c":147,"r":7,"v":0},{"c":148,"r":7,"v":0},{"c":149,"r":7,"v":0},
      {"c":150,"r":7,"v":0},{"c":151,"r":7,"v":0},{"c":152,"r":7,"v":1},{"c":153,"r":7,"v":0},{"c":154,"r":7,"v":0},{"c":155,"r":7,"v":0},{"c":156,"r":7,"v":0},{"c":157,"r":7,"v":1},{"c":158,"r":7,"v":0},{"c":159,"r":7,"v":0}
    ]
  },
  "layer": [
    {
      "mark": {"type": "rect", "strokeWidth": 0.6},
      "encoding": {
        "x": {
          "field": "c",
          "type": "ordinal",
          "scale": {"paddingInner": 0, "paddingOuter": 0},
          "axis": {"orient": "bottom", "values": [0, 20, 40, 60, 80, 100, 120, 140], "labelAngle": 0}
        },
        "y": {
          "field": "r",
          "type": "ordinal",
          "scale": {"paddingInner": 0, "paddingOuter": 0},
          "axis": {"orient": "left"}
        },
        "color": {
          "field": "v",
          "type": "quantitative",
          "scale": {"domain": [0, 1], "range": ["#ffff66", "#008066"], "interpolate": "rgb"},
          "legend": null
        },
        "stroke": {
          "field": "v",
          "type": "quantitative",
          "scale": {"domain": [0, 1], "range": ["#ffff66", "#008066"], "interpolate": "rgb"},
          "legend": null
        }
      }
    },
    {
      "mark": {"type": "rect", "opacity": 0},
      "encoding": {
        "x": {
          "field": "c",
          "type": "ordinal",
          "axis": {"orient": "top", "values": [0, 20, 40, 60, 80, 100, 120, 140], "labels": false}
        },
        "y": {
          "field": "r",
          "type": "ordinal",
          "axis": {"orient": "right", "labels": false}
        }
      }
    }
  ],
  "resolve": {"axis": {"x": "independent", "y": "independent"}}
}
